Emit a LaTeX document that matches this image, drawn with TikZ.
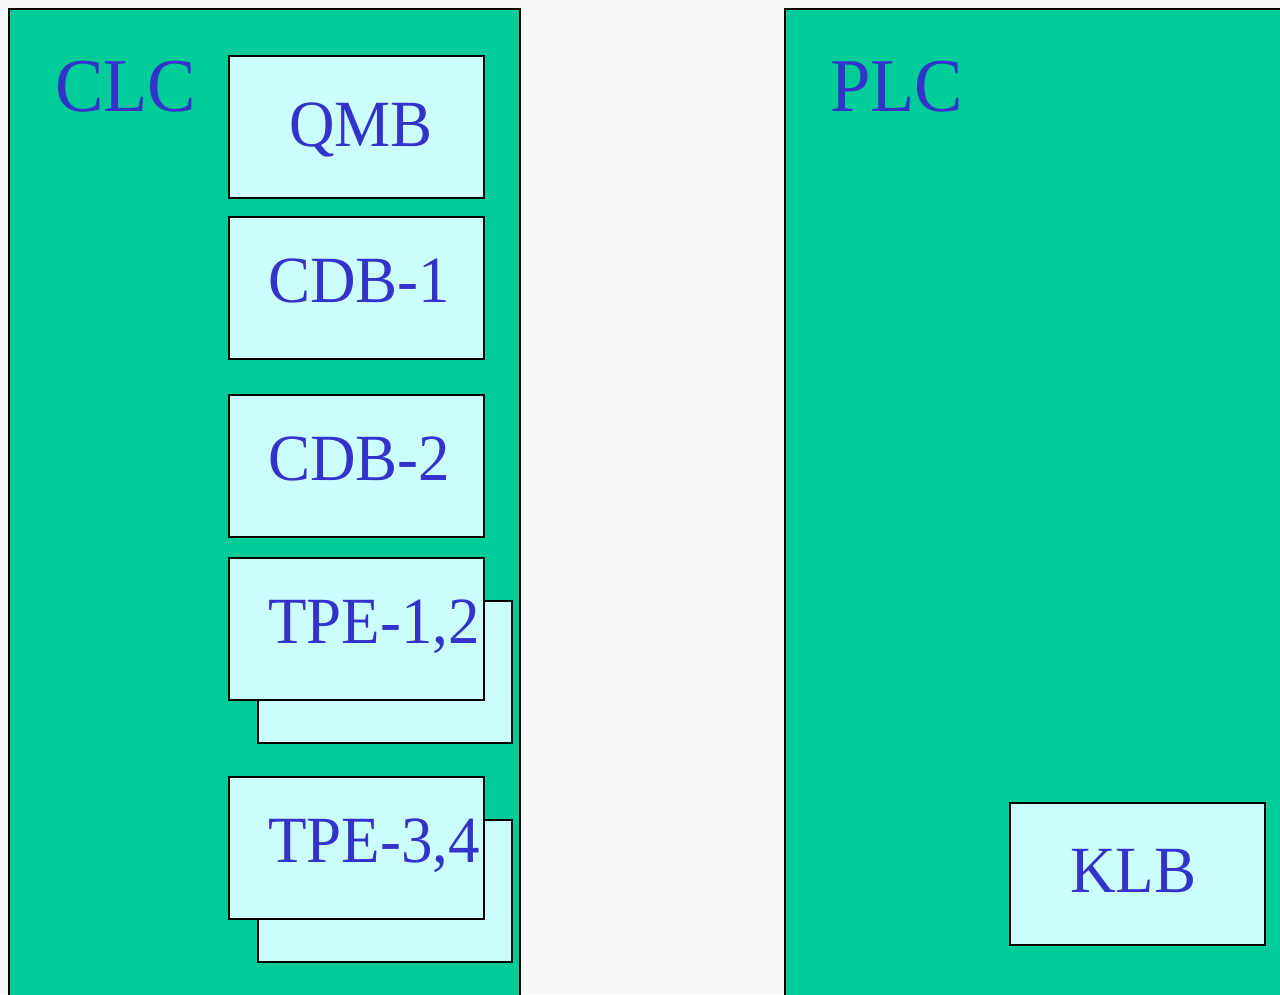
\documentclass[tikz,border=0pt]{standalone}
\usepackage{fontspec}
\usepackage{graphicx}
\setmainfont{Liberation Serif}
\definecolor{bgc}{HTML}{F7F7F7}
\definecolor{panelc}{HTML}{00CC99}
\definecolor{boxc}{HTML}{CCFFFF}
\definecolor{txtc}{HTML}{3333CC}
\newcommand{\narrowtxt}[1]{\scalebox{0.955}[1]{#1}}
\begin{document}
\begin{tikzpicture}[x=1pt,y=-1pt,
  panel/.style={draw=black,line width=2.4pt,fill=panelc},
  unit/.style={draw=black,line width=2.4pt,fill=boxc},
  big/.style={text=txtc,anchor=base west,inner sep=0pt,font=\fontsize{76}{76}\selectfont},
  lab/.style={text=txtc,anchor=base west,inner sep=0pt,font=\fontsize{66}{66}\selectfont}]
\fill[bgc] (0,0) rectangle (1280,994);
\useasboundingbox (0,0) rectangle (1280,994);
% panels
\draw[panel] (9,9) rectangle (520,1010);
\draw[panel] (785,9) rectangle (1300,1010);
% boxes
\draw[unit] (229,56) rectangle (484,198);
\draw[unit] (229,217) rectangle (484,359);
\draw[unit] (229,395) rectangle (484,537);
\draw[unit] (258,601) rectangle (512,743);
\draw[unit] (229,558) rectangle (484,700);
\draw[unit] (258,820) rectangle (512,962);
\draw[unit] (229,777) rectangle (484,919);
\draw[unit] (1010,803) rectangle (1265,945);
% labels
\node[big] (clc) at (55,111) {\narrowtxt{CLC}};
\node[big] (plc) at (830,111) {\narrowtxt{PLC}};
\node[lab] (qmb) at (289,146) {\narrowtxt{QMB}};
\node[lab] (cdb1) at (268,302) {\narrowtxt{CDB-1}};
\node[lab] (cdb2) at (268,480) {\narrowtxt{CDB-2}};
\node[lab] (tpe12) at (268,643) {\narrowtxt{TPE-1,2}};
\node[lab] (tpe34) at (268,862) {\narrowtxt{TPE-3,4}};
\node[lab] (klb) at (1070,892) {\narrowtxt{KLB}};
\end{tikzpicture}
\end{document}
